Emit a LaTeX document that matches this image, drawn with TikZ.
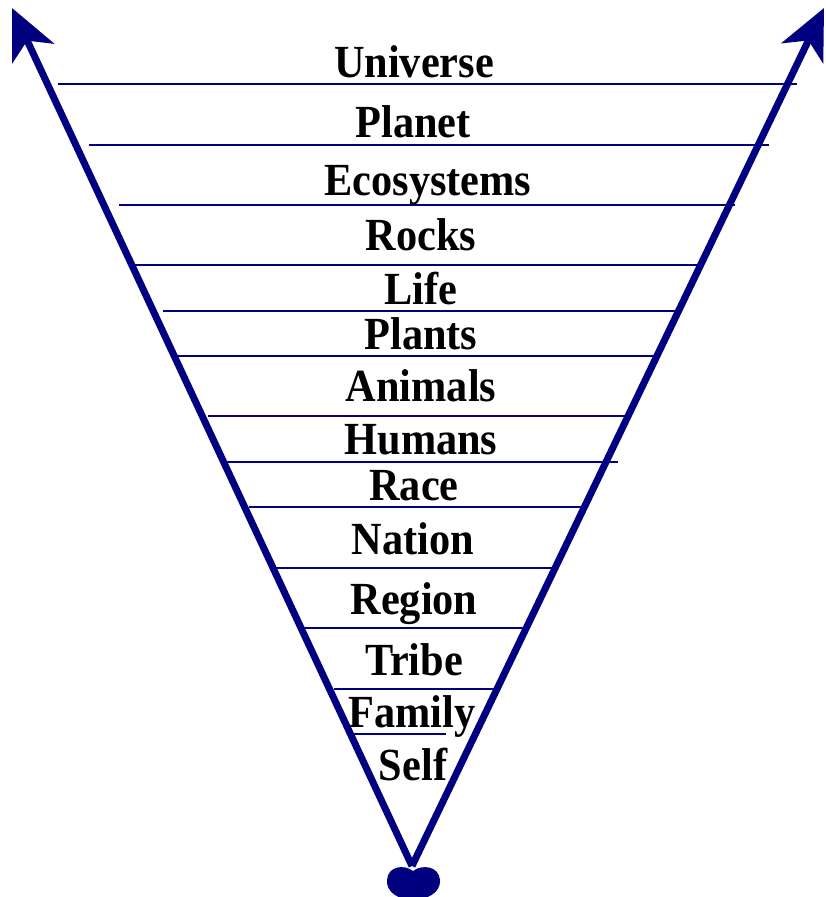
\documentclass[tikz,border=0pt]{standalone}
\usepackage{fontspec}
\setmainfont{Liberation Serif}
\usetikzlibrary{arrows.meta}
\definecolor{navyc}{RGB}{0,0,128}
\begin{document}
\begin{tikzpicture}[x=1pt,y=-1pt,
  lbl/.style={font=\bfseries\fontsize{46}{46}\selectfont, inner sep=0pt, anchor=base, xscale=0.92},
  rung/.style={draw=navyc, line width=1.8pt},
  axis/.style={draw=navyc, line width=7pt, -{Stealth[length=50pt,width=46pt,inset=14pt]}}]
\useasboundingbox (0,0) rectangle (826,897);
% rungs
\foreach \y/\a/\b in {84/58/797,145/89/769,205/119/735,265/135/700,311/163/680,356/176/657,416/208/630,462/226/618,507/249/585,568/275/557,628/304/527,689/334/496,734/354/446}
  \draw[rung] (\a,\y) -- (\b,\y);
% axes
\coordinate (v) at (412,866);
\coordinate (tl) at (12,8);
\coordinate (tr) at (824,8);
\draw[axis] (v) -- (tl);
\draw[axis] (v) -- (tr);
% heart
\fill[navyc] (413,871) .. controls (404,864) and (388,866) .. (387,880)
  .. controls (386,893) and (400,900) .. (413,900)
  .. controls (426,900) and (441,893) .. (440,880)
  .. controls (439,866) and (422,864) .. (413,871) -- cycle;
% labels
\node[lbl] (n1) at (414,77) {Universe};
\node[lbl] (n2) at (413,137) {Planet};
\node[lbl] (n3) at (428,195) {Ecosystems};
\node[lbl] (n4) at (421,250) {Rocks};
\node[lbl] (n5) at (421,304) {Life};
\node[lbl] (n6) at (421,349) {Plants};
\node[lbl] (n7) at (421,401) {Animals};
\node[lbl] (n8) at (421,454) {Humans};
\node[lbl] (n9) at (414,500) {Race};
\node[lbl] (n10) at (413,554) {Nation};
\node[lbl] (n11) at (414,614) {Region};
\node[lbl] (n12) at (414,675) {Tribe};
\node[lbl] (n13) at (412,727) {Family};
\node[lbl] (n14) at (413,780) {Self};
\end{tikzpicture}
\end{document}
